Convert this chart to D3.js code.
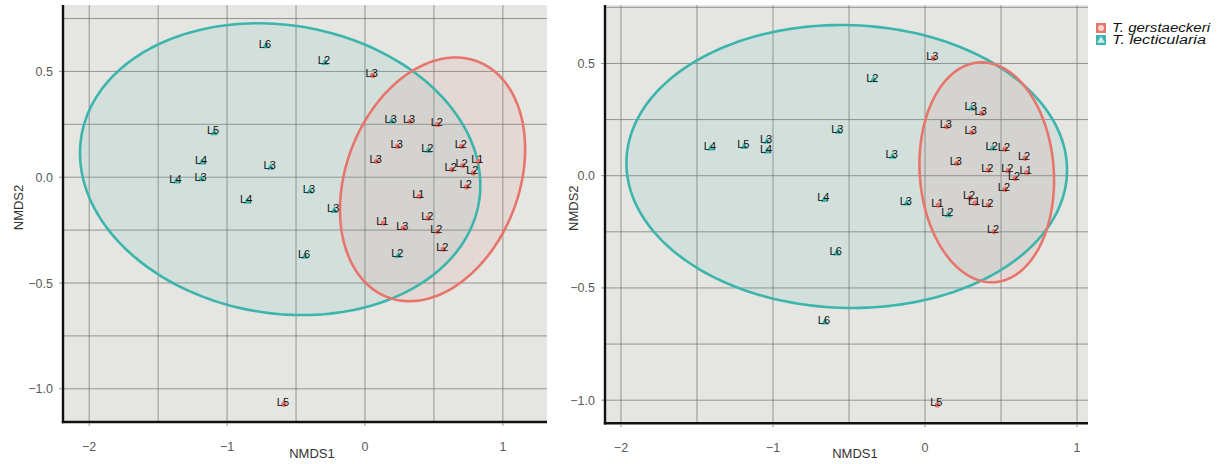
<!DOCTYPE html>
<html>
<head>
<meta charset="utf-8">
<script src="https://cdn.jsdelivr.net/npm/d3@7"></script>
<style>
  html, body { margin: 0; padding: 0; background: #ffffff; }
  svg { display: block; }
  text { font-family: "Liberation Sans", Arial, Helvetica, sans-serif; }
</style>
</head>
<body>
<svg id="chart" width="1224" height="464"></svg>
<script>
// ---------------- DATA ----------------
const speciesNames = ["T. gerstaeckeri", "T. lecticularia"];

// Panel 1 (left) — T. gerstaeckeri
const p1GerLab = ["L3","L2","L3","L2","L3","L2","L2","L1","L2","L2","L1","L1","L3","L2","L2","L2","L3","L5"];
const p1GerX = [0.327,0.528,0.237,0.702,0.085,0.629,0.709,0.822,0.786,0.738,0.394,0.133,0.278,0.459,0.525,0.568,0.056,-0.588];
const p1GerY = [0.264,0.249,0.146,0.146,0.075,0.036,0.055,0.075,0.020,-0.046,-0.091,-0.217,-0.241,-0.193,-0.257,-0.340,0.481,-1.073];

// Panel 1 (left) — T. lecticularia
const p1LecLab = ["L6","L2","L5","L4","L3","L4","L3","L4","L3","L3","L6","L2","L3","L2"];
const p1LecX = [-0.718,-0.290,-1.094,-1.181,-1.185,-1.367,-0.684,-0.854,-0.399,-0.223,-0.435,0.242,0.194,0.459];
const p1LecY = [0.620,0.541,0.209,0.070,-0.009,-0.020,0.046,-0.115,-0.067,-0.159,-0.375,-0.372,0.264,0.126];

// Panel 2 (right) — T. gerstaeckeri
const p2GerLab = ["L3","L3","L3","L2","L2","L3","L2","L2","L1","L2","L2","L2","L1","L2","L1","L2","L3","L5"];
const p2GerX = [0.373,0.143,0.307,0.526,0.658,0.209,0.416,0.548,0.669,0.592,0.526,0.296,0.329,0.416,0.088,0.454,0.055,0.081];
const p2GerY = [0.278,0.218,0.192,0.118,0.078,0.055,0.025,0.022,0.013,-0.012,-0.061,-0.099,-0.123,-0.131,-0.131,-0.249,0.523,-1.021];

// Panel 2 (right) — T. lecticularia
const p2LecLab = ["L4","L5","L3","L4","L3","L2","L3","L3","L4","L6","L6","L3","L2","L2"];
const p2LecX = [-1.408,-1.189,-1.039,-1.039,-0.570,-0.340,-0.213,-0.120,-0.662,-0.581,-0.658,0.307,0.445,0.153];
const p2LecY = [0.122,0.129,0.152,0.109,0.196,0.426,0.085,-0.123,-0.108,-0.346,-0.653,0.300,0.122,-0.175];

// Ellipses: [centerX, centerY, varX, varY, covXY] in NMDS units
const p1GerEllipse = [0.490, -0.010, 0.4506, 0.3316, 0.0963];
const p1LecEllipse = [-0.615, 0.038, 2.107, 0.4755, -0.1101];
const p2GerEllipse = [0.406, 0.015, 0.196, 0.240, -0.0161];
const p2LecEllipse = [-0.515, 0.041, 2.100, 0.3973, -0.0227];

const xTicks = [-2, -1, 0, 1];
const yTicks = [-1.0, -0.5, 0.0, 0.5];
const xGrid = [-2, -1.5, -1, -0.5, 0, 0.5, 1];
const yGrid = [-1, -0.75, -0.5, -0.25, 0, 0.25, 0.5, 0.75];

// ---------------- STYLE ----------------
const colGer = "#e8756b";
const colLec = "#3cb5ad";

const svg = d3.select("#chart");

const panels = [
  { xDom: [-2.19, 1.32], xRange: [63, 547], yDom: [-1.157, 0.814], yRange: [422, 5],
    ger: { lab: p1GerLab, x: p1GerX, y: p1GerY, ell: p1GerEllipse },
    lec: { lab: p1LecLab, x: p1LecX, y: p1LecY, ell: p1LecEllipse },
    xTitle: 312, yTitleX: 18 },
  { xDom: [-2.105, 1.072], xRange: [605, 1088], yDom: [-1.103, 0.76], yRange: [423.3, 5.1],
    ger: { lab: p2GerLab, x: p2GerX, y: p2GerY, ell: p2GerEllipse },
    lec: { lab: p2LecLab, x: p2LecX, y: p2LecY, ell: p2LecEllipse },
    xTitle: 855, yTitleX: 573 }
];

function ellipsePoints(e) {
  const [cx, cy, a, b, c] = e;
  const l11 = Math.sqrt(a), l21 = c / l11, l22 = Math.sqrt(b - l21 * l21);
  const pts = [];
  for (let i = 0; i <= 200; i++) {
    const t = i / 200 * 2 * Math.PI;
    const u = Math.cos(t), v = Math.sin(t);
    pts.push([cx + l11 * u, cy + l21 * u + l22 * v]);
  }
  return pts;
}

panels.forEach(p => {
  const x = d3.scaleLinear().domain(p.xDom).range(p.xRange);
  const y = d3.scaleLinear().domain(p.yDom).range(p.yRange);
  const g = svg.append("g");
  const [x0, x1] = p.xRange, [y0, y1] = [p.yRange[1], p.yRange[0]];

  g.append("rect").attr("x", x0).attr("y", y0).attr("width", x1 - x0).attr("height", y1 - y0)
    .attr("fill", "#e5e5e1");

  const clipId = "clip" + x0;
  svg.append("clipPath").attr("id", clipId).append("rect")
    .attr("x", x0).attr("y", y0).attr("width", x1 - x0).attr("height", y1 - y0);

  const inner = g.append("g").attr("clip-path", `url(#${clipId})`);
  inner.selectAll(".gx").data(xGrid).join("line")
    .attr("x1", d => x(d)).attr("x2", d => x(d)).attr("y1", y0).attr("y2", y1)
    .attr("stroke", "#707070").attr("stroke-width", 0.7);
  inner.selectAll(".gy").data(yGrid).join("line")
    .attr("y1", d => y(d)).attr("y2", d => y(d)).attr("x1", x0).attr("x2", x1)
    .attr("stroke", "#707070").attr("stroke-width", 0.7);

  const line = d3.line().x(d => x(d[0])).y(d => y(d[1])).curve(d3.curveLinearClosed);
  const groups = [
    { s: p.lec, col: colLec },
    { s: p.ger, col: colGer }
  ];
  groups.forEach(gr => {
    inner.append("path").attr("d", line(ellipsePoints(gr.s.ell)))
      .attr("fill", gr.col).attr("fill-opacity", 0.11).attr("stroke", "none");
  });
  groups.forEach(gr => {
    inner.append("path").attr("d", line(ellipsePoints(gr.s.ell)))
      .attr("fill", "none").attr("stroke", gr.col).attr("stroke-width", 2.6);
  });

  // points
  const tri = d3.symbol().type(d3.symbolTriangle).size(24);
  groups.forEach(gr => {
    const s = gr.s;
    const idx = d3.range(s.x.length);
    if (gr.col === colGer) {
      inner.selectAll(null).data(idx).join("circle")
        .attr("cx", i => x(s.x[i])).attr("cy", i => y(s.y[i])).attr("r", 2.7)
        .attr("fill", gr.col);
    } else {
      inner.selectAll(null).data(idx).join("path")
        .attr("d", tri).attr("transform", i => `translate(${x(s.x[i])},${y(s.y[i])})`)
        .attr("fill", gr.col);
    }
  });
  groups.forEach(gr => {
    const s = gr.s;
    inner.selectAll(null).data(d3.range(s.x.length)).join("text")
      .attr("x", i => x(s.x[i]) - 1).attr("y", i => y(s.y[i]) + 1.5)
      .attr("text-anchor", "middle").attr("font-size", 11).attr("fill", "#111")
      .text(i => s.lab[i]);
  });

  // axes
  g.append("line").attr("x1", x0).attr("x2", x0).attr("y1", y0).attr("y2", y1 + 1.2)
    .attr("stroke", "#111").attr("stroke-width", 2.4);
  g.append("line").attr("x1", x0 - 1.2).attr("x2", x1).attr("y1", y1).attr("y2", y1)
    .attr("stroke", "#111").attr("stroke-width", 2.4);

  g.selectAll(".xt").data(xTicks).join("line")
    .attr("x1", d => x(d)).attr("x2", d => x(d)).attr("y1", y1 + 1).attr("y2", y1 + 4)
    .attr("stroke", "#777").attr("stroke-width", 0.8);
  g.selectAll(".xl").data(xTicks).join("text")
    .attr("x", d => x(d)).attr("y", y1 + 29).attr("text-anchor", "middle")
    .attr("font-size", 12.5).attr("fill", "#5a5a5a")
    .text(d => d3.format("")(d).replace("-", "\u2212"));
  g.selectAll(".yt").data(yTicks).join("line")
    .attr("x1", x0 - 4).attr("x2", x0 - 1).attr("y1", d => y(d)).attr("y2", d => y(d))
    .attr("stroke", "#777").attr("stroke-width", 0.8);
  g.selectAll(".yl").data(yTicks).join("text")
    .attr("x", x0 - 10).attr("y", d => y(d) + 4.5).attr("text-anchor", "end")
    .attr("font-size", 12.5).attr("fill", "#5a5a5a")
    .text(d => d3.format(".1f")(d).replace("-", "\u2212"));

  g.append("text").attr("x", p.xTitle).attr("y", 458).attr("text-anchor", "middle")
    .attr("font-size", 13).attr("fill", "#333").text("NMDS1");
  g.append("text").attr("transform", `translate(${p.yTitleX + 5},${(y0 + y1) / 2 - 6}) rotate(-90)`)
    .attr("text-anchor", "middle").attr("font-size", 13).attr("fill", "#333").text("NMDS2");
});

// legend
const legend = svg.append("g").attr("transform", "translate(1096,23)");
speciesNames.forEach((name, i) => {
  const gy = i * 12;
  const col = i === 0 ? colGer : colLec;
  legend.append("rect").attr("x", 0).attr("y", gy).attr("width", 10).attr("height", 10)
    .attr("fill", col);
  if (i === 0) {
    legend.append("circle").attr("cx", 5).attr("cy", gy + 5).attr("r", 3).attr("fill", "#f4d6d2");
  } else {
    legend.append("path").attr("d", d3.symbol().type(d3.symbolTriangle).size(26)())
      .attr("transform", `translate(5,${gy + 5.6})`).attr("fill", "#cfeeed");
  }
  legend.append("text").attr("x", 16).attr("y", gy + 9).attr("font-size", 12)
    .attr("font-style", "italic").attr("fill", "#111")
    .attr("textLength", i === 0 ? 98 : 94).attr("lengthAdjust", "spacingAndGlyphs")
    .text(name);
});
</script>
</body>
</html>
